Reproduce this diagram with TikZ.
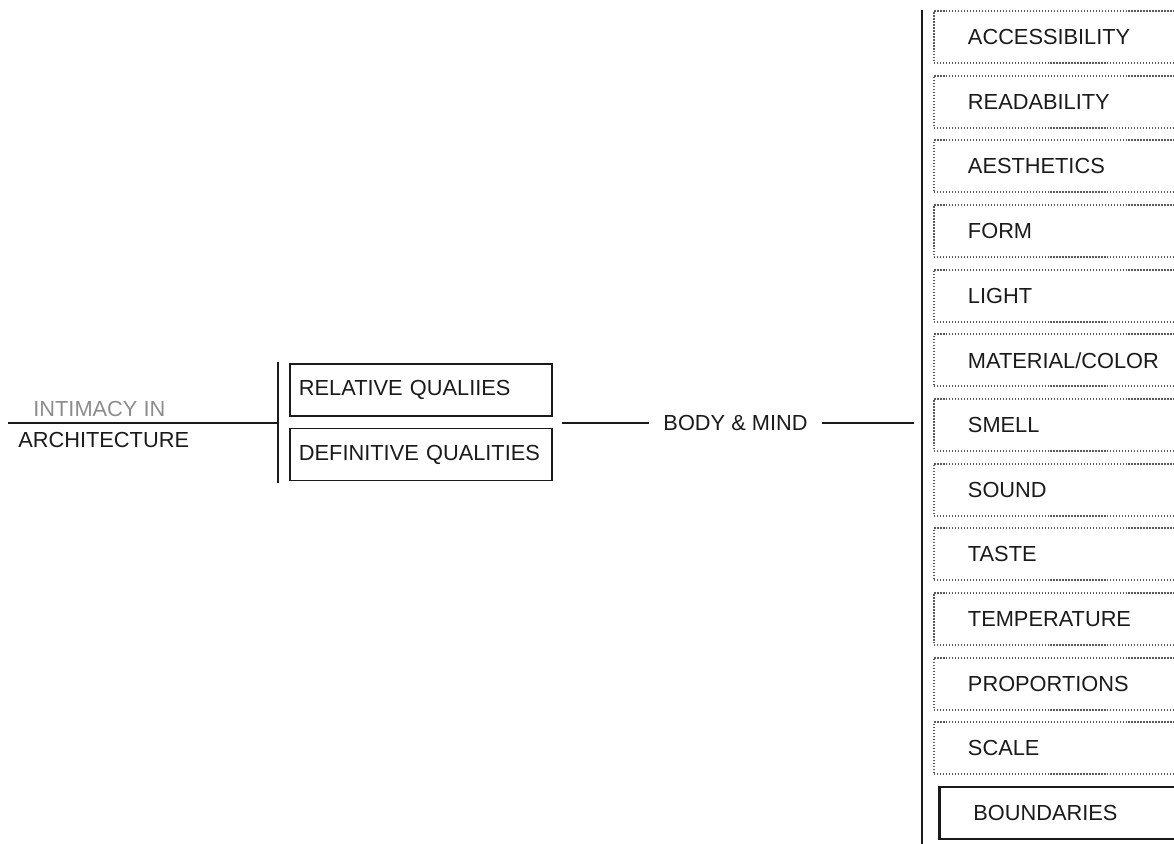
\documentclass[tikz,border=0pt]{standalone}
\usepackage{fontspec}
\setmainfont{Liberation Sans}
\usetikzlibrary{positioning}
\definecolor{ink}{HTML}{1A1A1A}
\definecolor{softgray}{HTML}{8C8C8C}
\definecolor{dotgray}{HTML}{5A5A5A}
\tikzset{
  lbl/.style={font=\fontsize{12.4}{14}\selectfont,text=ink,inner sep=0pt},
  greylbl/.style={lbl,text=softgray},
  qbox/.style={draw=ink,line width=1.1pt,text width=4.88cm,inner xsep=0.18cm,minimum height=1.04cm,align=left,font=\fontsize{12.4}{14}\selectfont,text=ink,anchor=west},
  sensebox/.style={draw=dotgray,line width=1.1pt,dash pattern=on 0.7pt off 1.0pt,text width=4.2cm,inner xsep=0.68cm,minimum height=1.04cm,align=left,font=\fontsize{12.4}{14}\selectfont,text=ink,anchor=west},
  edgebox/.style={sensebox,draw=ink,solid,line width=1.6pt},
  rule/.style={draw=ink,line width=1.1pt}
}
\begin{document}
\begin{tikzpicture}[x=1cm,y=1cm]
\useasboundingbox (0,0) rectangle (23.48,16.86);
\clip (0,0) rectangle (23.48,16.86);
% title and first split
\coordinate (start) at (0.16,8.40); \coordinate (split1) at (5.56,8.40);
\coordinate (split1top) at (5.56,9.62); \coordinate (split1bot) at (5.56,7.20);
\draw[rule] (start) -- (split1);
\draw[rule] (split1top) -- (split1bot);
\node[greylbl,anchor=base west] (intimacy) at (0.66,8.52) {INTIMACY IN};
\node[lbl,anchor=base west] (arch) at (0.36,7.90) {ARCHITECTURE};
\node[qbox] (rel) at (5.78,9.06) {RELATIVE QUALIIES};
\node[qbox] (def) at (5.78,7.77) {DEFINITIVE QUALITIES};
% body & mind
\node[lbl,inner xsep=0.29cm] (body) at (14.71,8.40) {BODY \& MIND};
\coordinate (bmin) at (11.24,8.40); \coordinate (bmout) at (18.28,8.40);
\draw[rule] (bmin) -- (body.west); \draw[rule] (body.east) -- (bmout);
% second split and senses
\coordinate (split2top) at (18.44,16.66); \coordinate (split2bot) at (18.44,-0.1);
\draw[rule] (split2top) -- (split2bot);
\foreach \name [count=\i from 0] in {ACCESSIBILITY,READABILITY,AESTHETICS,FORM,LIGHT,MATERIAL/COLOR,SMELL,SOUND,TASTE,TEMPERATURE,PROPORTIONS,SCALE}
  \node[sensebox] (sense\i) at (18.66,{16.12-1.2934*\i}) {\name};
\node[edgebox] (bound) at (18.76,0.60) {BOUNDARIES};
\end{tikzpicture}
\end{document}
